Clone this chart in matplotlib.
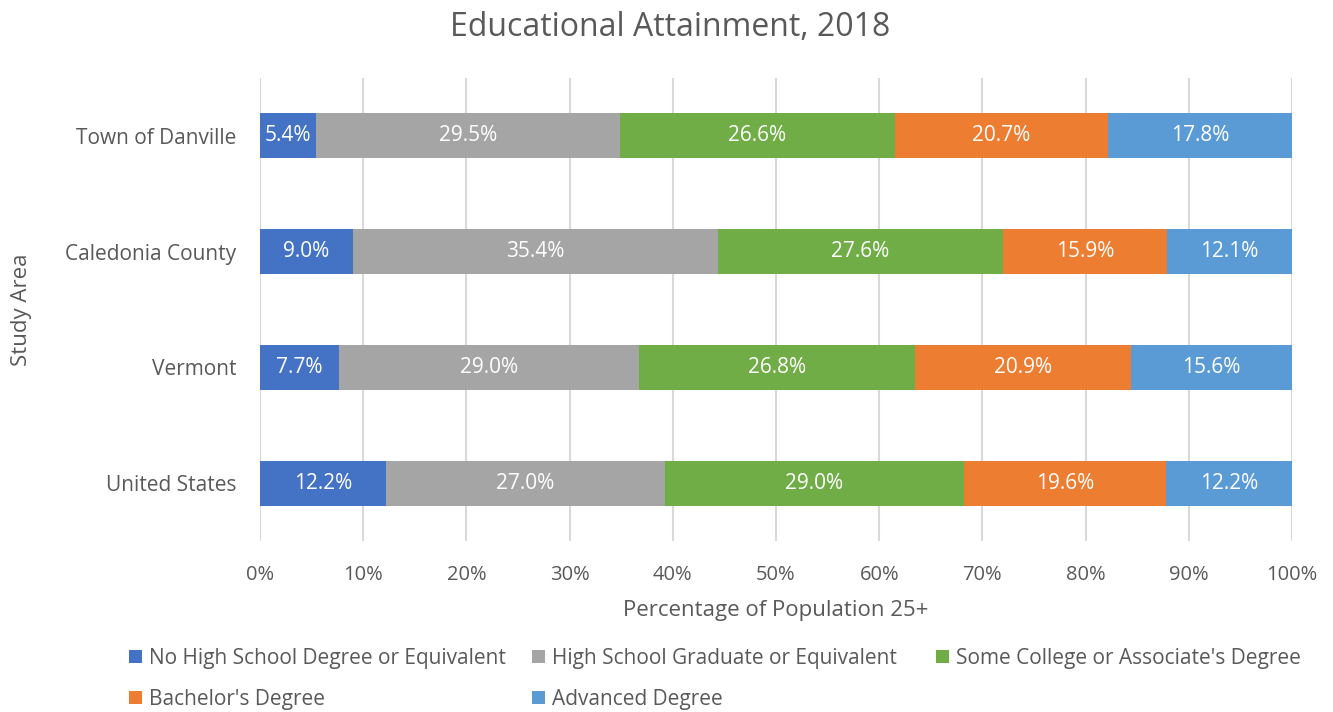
import matplotlib
matplotlib.use("Agg")
import matplotlib.pyplot as plt
import numpy as np

plt.rcParams['font.family'] = ['Open Sans', 'DejaVu Sans']

areas = ["Town of Danville", "Caledonia County", "Vermont", "United States"]
series = ["No High School Degree or Equivalent", "High School Graduate or Equivalent",
          "Some College or Associate's Degree", "Bachelor's Degree", "Advanced Degree"]
no_hs = [5.4, 9.0, 7.7, 12.2]
hs_grad = [29.5, 35.4, 29.0, 27.0]
some_college = [26.6, 27.6, 26.8, 29.0]
bachelor = [20.7, 15.9, 20.9, 19.6]
advanced = [17.8, 12.1, 15.6, 12.2]
values = [no_hs, hs_grad, some_college, bachelor, advanced]
colors = ["#4472C4", "#A5A5A5", "#70AD47", "#ED7D31", "#5B9BD5"]
ticks = [0, 10, 20, 30, 40, 50, 60, 70, 80, 90, 100]

W, H = 1333, 712
fig = plt.figure(figsize=(W/100, H/100), dpi=100)
ax = fig.add_axes([260/W, 1-541/H, (1292-260)/W, (541-78)/H])

txt = "#595959"
y = np.arange(len(areas))[::-1]
left = np.zeros(len(areas))
handles = []
for name, vals, c in zip(series, values, colors):
    vals = np.array(vals)
    bars = ax.barh(y, vals, left=left, height=0.39, color=c, label=name, zorder=3)
    handles.append(bars)
    for yi, l, v in zip(y, left, vals):
        ax.text(l + v/2, yi, f"{v:.1f}%", ha="center", va="center",
                color="white", fontsize=15, zorder=4)
    left = left + vals

ax.set_xlim(0, 100)
ax.set_ylim(-0.5, 3.5)
ax.set_xticks(ticks)
ax.set_xticklabels([f"{t}%" for t in ticks], color=txt, fontsize=14.5)
ax.set_yticks(y)
ax.set_yticklabels(areas, color=txt, fontsize=15)
ax.tick_params(axis="both", length=0)
ax.tick_params(axis="x", pad=17)
ax.tick_params(axis="y", pad=17)
ax.grid(axis="x", color="#D9D9D9", linewidth=1.5, zorder=0)
for s in ax.spines.values():
    s.set_visible(False)

ax.set_xlabel("Percentage of Population 25+", color=txt, fontsize=16, labelpad=11)
fig.text(22/W, 1-310/H, "Study Area", rotation=90, ha="center", va="center",
         color=txt, fontsize=16)
fig.text(670/W, 1-27/H, "Educational Attainment, 2018", ha="center", va="center",
         color=txt, fontsize=23)

cols = [([0, 3], 129), ([1, 4], 532), ([2], 936)]
for idx, x0 in cols:
    leg = fig.legend([handles[i] for i in idx], [series[i] for i in idx],
                     loc="upper left", bbox_to_anchor=(x0/W, 1-648/H),
                     frameon=False, fontsize=15, handlelength=0.6, handleheight=0.6,
                     handletextpad=0.35, labelspacing=0.95, borderpad=0,
                     borderaxespad=0)
    for t in leg.get_texts():
        t.set_color(txt)

fig.savefig("out.png", dpi=100)
